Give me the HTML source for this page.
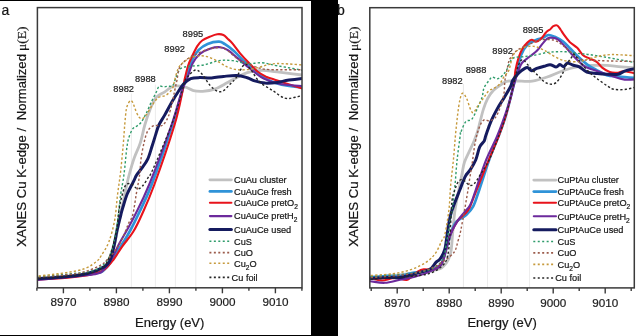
<!DOCTYPE html>
<html><head><meta charset="utf-8"><style>
html,body{margin:0;padding:0;background:#fff;width:643px;height:336px;overflow:hidden}
svg{display:block;will-change:transform;font-family:"Liberation Sans",sans-serif}
</style></head><body>
<svg width="643" height="336" viewBox="0 0 643 336" font-family="Liberation Sans, sans-serif">
<rect x="0" y="0" width="643" height="336" fill="#fff"/>
<line x1="131.4" y1="93.5" x2="131.4" y2="287.8" stroke="#ececec" stroke-width="1"/>
<line x1="155.4" y1="84.5" x2="155.4" y2="287.8" stroke="#ececec" stroke-width="1"/>
<line x1="175.4" y1="80" x2="175.4" y2="287.8" stroke="#ececec" stroke-width="1"/>
<line x1="195.8" y1="92" x2="195.8" y2="287.8" stroke="#ececec" stroke-width="1"/>
<text x="182.6" y="37.1" font-size="9.3" fill="#1c1c1c" stroke="#1c1c1c" stroke-width="0.2">8995</text>
<text x="164.3" y="51.7" font-size="9.3" fill="#1c1c1c" stroke="#1c1c1c" stroke-width="0.2">8992</text>
<text x="135.1" y="82.4" font-size="9.3" fill="#1c1c1c" stroke="#1c1c1c" stroke-width="0.2">8988</text>
<text x="113.3" y="91.7" font-size="9.3" fill="#1c1c1c" stroke="#1c1c1c" stroke-width="0.2">8982</text>
<clipPath id="ca"><rect x="37.4" y="7.6" width="264.6" height="280.2"/></clipPath>
<g clip-path="url(#ca)"><path d="M30.0,279.0 C35.7,278.6 54.0,277.4 64.0,276.5 C74.0,275.6 84.0,274.6 90.0,273.5 C96.0,272.4 97.2,271.6 100.0,270.0 C102.8,268.4 105.2,266.3 107.0,264.0 C108.8,261.7 109.8,259.2 111.0,256.0 C112.2,252.8 113.4,249.3 114.5,245.0 C115.6,240.7 116.4,235.5 117.5,230.0 C118.6,224.5 119.8,218.2 121.0,212.0 C122.2,205.8 123.7,199.2 125.0,193.0 C126.3,186.8 127.5,180.9 129.1,175.0 C130.7,169.1 132.4,163.0 134.3,157.7 C136.2,152.3 138.6,148.3 140.3,142.9 C142.1,137.5 143.2,130.5 144.8,125.0 C146.4,119.5 148.0,114.5 149.9,109.9 C151.8,105.3 153.6,100.4 156.1,97.4 C158.6,94.4 161.9,93.7 164.8,91.8 C167.7,89.9 170.2,87.0 173.5,86.2 C176.8,85.4 181.4,86.2 184.7,86.9 C188.0,87.6 190.4,89.9 193.4,90.6 C196.4,91.3 199.2,91.5 202.7,91.3 C206.2,91.0 210.6,90.5 214.6,89.1 C218.6,87.7 223.4,84.8 226.6,83.1 C229.8,81.4 230.6,80.7 234.0,79.0 C237.4,77.3 242.6,74.1 247.3,72.7 C252.0,71.3 257.2,70.5 262.2,70.4 C267.2,70.3 269.2,71.0 277.2,71.9 C285.2,72.8 304.5,75.3 310.0,76.0" fill="none" stroke="#c1c1c1" stroke-width="2.8" stroke-linejoin="round" stroke-linecap="round"/>
<path d="M30.0,279.5 C40.3,278.6 79.3,275.9 92.0,274.0 C104.7,272.1 102.4,270.9 106.0,268.0 C109.6,265.1 110.5,261.4 113.6,256.8 C116.6,252.2 121.5,245.2 124.3,240.7 C127.1,236.2 128.2,234.3 130.5,230.0 C132.8,225.7 134.5,222.5 138.0,215.0 C141.5,207.5 145.8,200.0 151.5,185.0 C157.2,170.0 167.1,141.2 172.3,125.0 C177.6,108.8 180.7,95.8 183.0,88.0 C185.3,80.2 184.5,82.8 186.0,78.2 C187.5,73.6 189.9,65.0 192.0,60.3 C194.1,55.6 196.1,52.6 198.7,49.9 C201.3,47.2 204.2,45.3 207.6,43.9 C211.0,42.5 216.2,41.5 219.1,41.6 C222.0,41.7 222.4,42.7 224.9,44.2 C227.4,45.8 230.9,48.3 233.9,50.9 C236.9,53.5 239.8,57.2 242.8,59.9 C245.8,62.6 249.1,65.0 251.8,67.3 C254.6,69.6 256.6,71.9 259.3,74.0 C262.0,76.1 264.3,78.2 268.0,80.0 C271.7,81.8 274.6,83.2 281.6,84.6 C288.6,86.0 305.3,87.8 310.0,88.5" fill="none" stroke="#2f93d8" stroke-width="2.7" stroke-linejoin="round" stroke-linecap="round"/>
<path d="M30.0,280.0 C36.7,279.6 59.6,278.4 70.0,277.5 C80.3,276.6 86.3,275.7 92.1,274.3 C97.9,272.9 101.0,271.8 104.6,269.3 C108.2,266.8 110.6,263.4 113.6,259.5 C116.6,255.6 119.2,250.7 122.5,246.1 C125.8,241.5 130.0,237.0 133.2,231.8 C136.4,226.6 138.2,222.8 141.7,215.0 C145.2,207.2 148.7,200.0 154.2,185.0 C159.7,170.0 169.7,140.8 174.5,125.0 C179.3,109.2 181.1,97.6 182.8,90.0 C184.5,82.4 183.7,83.6 184.6,79.6 C185.5,75.6 186.9,69.5 188.0,66.0 C189.1,62.5 189.4,61.9 191.0,58.6 C192.6,55.3 195.4,49.1 197.3,46.1 C199.2,43.1 200.1,42.0 202.2,40.5 C204.3,39.0 207.2,37.8 209.7,36.8 C212.2,35.8 214.9,34.6 217.2,34.3 C219.5,34.0 221.7,34.3 223.4,35.0 C225.2,35.7 226.2,37.3 227.7,38.7 C229.2,40.1 230.4,41.0 232.4,43.4 C234.4,45.8 237.2,49.9 239.9,53.1 C242.6,56.3 245.8,59.7 248.8,62.8 C251.8,65.9 254.8,69.4 257.8,71.8 C260.8,74.2 264.0,75.7 266.7,77.0 C269.4,78.3 271.2,78.4 274.2,79.4 C277.2,80.4 278.6,81.2 284.6,83.1 C290.6,85.0 305.8,89.7 310.0,91.0" fill="none" stroke="#e8131b" stroke-width="2.1" stroke-linejoin="round" stroke-linecap="round"/>
<path d="M30.0,280.5 C40.4,279.5 80.0,276.5 92.4,274.5 C104.8,272.5 101.4,271.0 104.6,268.4 C107.8,265.8 109.4,262.6 111.8,258.6 C114.2,254.6 116.4,249.1 118.9,244.3 C121.4,239.5 124.3,234.9 127.0,230.0 C129.7,225.1 131.3,222.5 135.0,215.0 C138.7,207.5 142.9,200.0 149.0,185.0 C155.1,170.0 166.0,140.8 171.5,125.0 C177.0,109.2 179.5,97.6 182.1,90.0 C184.7,82.4 185.0,84.0 186.8,79.6 C188.6,75.1 190.5,67.6 192.7,63.3 C194.9,59.0 197.2,56.1 200.2,53.6 C203.2,51.1 207.2,49.5 210.6,48.4 C214.0,47.3 217.5,46.9 220.4,47.2 C223.3,47.5 225.2,48.4 227.9,50.1 C230.7,51.8 233.9,55.1 236.9,57.6 C239.9,60.1 242.8,62.6 245.8,65.1 C248.8,67.6 251.8,70.3 254.8,72.5 C257.8,74.7 259.5,76.6 263.7,78.5 C267.9,80.4 272.3,82.7 280.0,84.0 C287.7,85.3 305.0,86.1 310.0,86.5" fill="none" stroke="#6c2a9c" stroke-width="2.1" stroke-linejoin="round" stroke-linecap="round"/>
<path d="M30.0,279.0 C35.0,278.7 50.5,278.2 60.0,277.3 C69.5,276.4 79.4,275.6 86.8,273.8 C94.2,272.0 100.7,268.8 104.6,266.6 C108.5,264.4 108.5,263.5 110.0,260.4 C111.5,257.3 112.4,253.0 113.6,247.9 C114.8,242.8 115.9,235.5 117.1,230.0 C118.3,224.5 119.8,218.8 120.8,215.0 C121.8,211.2 121.8,210.7 122.9,207.2 C124.0,203.7 125.6,198.0 127.3,193.8 C129.0,189.6 131.8,185.0 133.3,181.9 C134.9,178.8 135.2,177.3 136.6,175.0 C138.0,172.7 140.0,170.8 141.8,168.2 C143.7,165.6 146.0,162.9 147.7,159.2 C149.4,155.5 150.8,150.0 152.2,145.8 C153.6,141.6 154.8,137.4 155.9,133.9 C157.0,130.4 157.4,128.2 158.9,125.0 C160.4,121.8 162.6,118.9 164.8,114.9 C167.0,110.9 170.0,105.2 172.3,101.2 C174.6,97.2 176.6,94.1 178.5,91.2 C180.4,88.3 181.5,86.1 183.5,84.0 C185.5,81.9 188.0,79.8 190.7,78.7 C193.4,77.6 196.2,77.7 199.7,77.6 C203.2,77.5 207.6,78.1 211.6,77.9 C215.6,77.7 219.4,76.8 223.6,76.4 C227.8,76.0 232.9,75.3 236.9,75.5 C240.9,75.7 244.3,76.9 247.3,77.8 C250.3,78.7 251.8,80.0 254.8,80.9 C257.8,81.8 261.5,82.8 265.2,83.1 C268.9,83.3 273.2,82.9 277.2,82.4 C281.2,81.9 283.6,80.9 289.1,80.1 C294.6,79.3 306.5,77.9 310.0,77.5" fill="none" stroke="#151b5f" stroke-width="3.0" stroke-linejoin="round" stroke-linecap="round"/>
<path d="M30.0,277.5 C35.7,277.0 54.0,275.5 64.0,274.5 C74.0,273.5 84.0,272.7 90.0,271.5 C96.0,270.3 97.3,269.1 100.0,267.5 C102.7,265.9 104.3,264.1 106.0,262.0 C107.7,259.9 108.7,258.3 110.0,255.0 C111.3,251.7 112.7,247.8 114.0,242.0 C115.3,236.2 116.6,227.8 117.7,220.0 C118.8,212.2 119.6,202.5 120.6,195.0 C121.6,187.5 122.9,182.9 123.9,175.0 C125.0,167.1 126.0,153.7 126.9,147.3 C127.8,141.0 128.1,140.0 129.1,136.9 C130.1,133.8 131.6,130.5 132.9,128.7 C134.2,126.9 135.6,127.1 137.0,126.0 C138.4,124.9 139.7,124.4 141.2,122.3 C142.7,120.2 144.4,116.9 146.1,113.6 C147.8,110.3 149.4,105.9 151.1,102.4 C152.8,98.9 154.8,95.2 156.1,92.5 C157.4,89.8 157.9,87.1 159.2,86.2 C160.4,85.3 162.1,86.9 163.6,86.9 C165.1,86.9 166.4,86.5 167.9,86.2 C169.4,86.0 171.4,87.1 172.8,85.4 C174.2,83.7 175.2,78.8 176.5,76.0 C177.8,73.2 178.6,70.1 180.8,68.5 C183.0,66.9 185.8,66.9 189.8,66.3 C193.8,65.7 199.7,65.8 204.6,64.8 C209.5,63.8 214.4,61.3 219.0,60.6 C223.6,59.9 227.7,60.1 232.4,60.6 C237.1,61.1 242.3,63.2 247.3,63.6 C252.3,64.0 257.2,62.4 262.2,62.8 C267.2,63.2 269.2,64.3 277.2,65.8 C285.2,67.2 304.5,70.5 310.0,71.5" fill="none" stroke="#2f9c6b" stroke-width="1.4" stroke-linejoin="round" stroke-linecap="butt" stroke-dasharray="2.3 2.1"/>
<path d="M30.0,278.2 C36.7,277.6 60.9,275.6 70.0,274.5 C79.2,273.4 79.9,273.1 84.9,271.6 C89.9,270.1 96.2,267.6 99.9,265.6 C103.7,263.6 104.9,262.1 107.4,259.6 C109.9,257.1 112.4,254.2 114.9,250.7 C117.4,247.2 120.1,243.3 122.3,238.8 C124.5,234.3 126.6,227.9 128.3,223.9 C130.0,219.9 131.4,220.0 132.7,215.0 C134.0,210.0 135.2,200.5 136.3,193.8 C137.5,187.1 138.8,180.8 139.6,175.0 C140.4,169.2 140.3,164.5 141.0,159.2 C141.7,153.8 142.9,147.6 144.0,142.9 C145.1,138.2 146.1,133.9 147.7,131.0 C149.3,128.1 151.4,126.6 153.7,125.7 C155.9,124.8 159.3,126.2 161.2,125.8 C163.0,125.3 163.6,124.6 164.8,123.0 C166.0,121.4 167.2,119.5 168.5,116.1 C169.8,112.7 171.2,106.8 172.3,102.4 C173.4,98.1 174.0,93.7 174.8,90.0 C175.6,86.3 176.2,83.8 177.0,80.0 C177.8,76.2 178.0,70.8 179.5,67.5 C181.0,64.2 183.3,62.2 186.0,60.0 C188.7,57.8 191.8,56.1 195.7,54.3 C199.5,52.5 204.9,50.1 209.1,49.0 C213.2,47.9 217.5,47.3 220.6,47.6 C223.7,47.9 225.2,49.1 227.9,50.9 C230.6,52.7 234.2,56.5 236.9,58.4 C239.6,60.3 241.3,60.7 244.3,62.1 C247.3,63.5 250.6,65.3 254.8,66.6 C259.0,67.8 260.5,69.1 269.7,69.6 C278.9,70.1 303.3,69.6 310.0,69.6" fill="none" stroke="#9b5b4b" stroke-width="1.4" stroke-linejoin="round" stroke-linecap="butt" stroke-dasharray="2.3 2.1"/>
<path d="M30.0,276.8 C35.7,276.2 54.9,274.4 64.0,273.0 C73.2,271.6 79.4,270.6 84.9,268.6 C90.4,266.6 94.1,263.3 96.9,261.1 C99.7,258.9 99.5,258.4 101.5,255.2 C103.5,252.0 106.7,247.7 108.9,241.8 C111.1,235.9 113.3,227.8 114.7,220.0 C116.1,212.2 116.5,203.0 117.5,195.0 C118.5,187.0 119.6,180.3 120.6,172.0 C121.5,163.7 122.5,152.8 123.2,145.0 C123.9,137.2 124.2,130.8 124.7,125.0 C125.2,119.2 125.7,113.5 126.2,110.0 C126.8,106.5 127.3,105.6 128.0,104.0 C128.7,102.4 129.8,100.7 130.6,100.5 C131.4,100.3 132.3,101.7 133.0,103.0 C133.7,104.3 134.1,106.3 135.0,108.6 C135.9,110.9 137.5,115.0 138.7,116.7 C139.9,118.4 141.1,119.0 142.4,118.6 C143.8,118.2 145.1,116.5 146.8,114.2 C148.5,111.9 150.4,107.7 152.4,104.9 C154.4,102.1 156.3,99.0 158.6,97.4 C160.9,95.8 163.7,96.7 166.0,95.2 C168.3,93.8 170.9,91.1 172.3,88.7 C173.7,86.3 173.6,84.2 174.5,80.9 C175.4,77.7 176.6,72.1 177.9,69.2 C179.2,66.3 180.3,65.1 182.3,63.3 C184.3,61.4 186.8,59.4 189.8,58.1 C192.8,56.9 197.0,55.9 200.2,55.8 C203.4,55.7 206.0,56.2 209.1,57.3 C212.2,58.3 215.9,60.4 219.0,62.1 C222.1,63.8 224.9,66.0 227.9,67.3 C230.9,68.5 233.7,69.2 236.9,69.6 C240.1,70.0 243.6,70.0 247.3,69.6 C251.0,69.2 255.6,68.2 259.3,67.3 C263.0,66.4 266.0,64.9 269.7,64.3 C273.4,63.7 274.9,63.4 281.6,63.6 C288.3,63.8 305.3,65.2 310.0,65.5" fill="none" stroke="#c69a3c" stroke-width="1.4" stroke-linejoin="round" stroke-linecap="butt" stroke-dasharray="2.3 2.1"/>
<path d="M30.0,279.0 C35.7,278.6 54.0,277.5 64.0,276.5 C74.0,275.5 83.5,274.5 90.0,273.0 C96.5,271.5 100.0,269.7 103.0,267.5 C106.0,265.3 106.5,263.1 108.0,260.0 C109.5,256.9 110.6,254.0 112.0,249.0 C113.4,244.0 115.3,236.7 116.5,230.0 C117.7,223.3 118.3,214.5 119.2,208.7 C120.1,202.9 121.0,199.3 122.1,195.3 C123.2,191.3 124.3,186.8 125.9,184.9 C127.5,183.0 130.0,183.5 131.8,184.1 C133.7,184.7 135.3,188.2 137.0,188.6 C138.7,189.0 140.3,188.3 142.2,186.4 C144.1,184.5 146.5,180.1 148.2,177.4 C149.9,174.7 148.7,178.7 152.6,170.0 C156.5,161.3 166.5,138.3 171.5,125.0 C176.5,111.7 180.3,97.3 182.5,90.0 C184.7,82.7 183.7,83.4 184.8,80.9 C185.9,78.4 187.2,77.0 189.0,75.2 C190.8,73.4 193.6,70.2 195.7,70.0 C197.8,69.8 199.3,71.1 201.7,73.7 C204.1,76.3 207.4,82.5 210.1,85.4 C212.8,88.3 215.3,90.4 217.6,91.3 C219.8,92.2 221.6,91.7 223.6,90.6 C225.6,89.5 227.5,86.7 229.6,84.6 C231.7,82.5 233.6,81.2 236.0,77.9 C238.4,74.6 241.9,66.0 244.3,64.5 C246.7,63.0 247.8,66.2 250.3,69.0 C252.8,71.8 255.6,78.0 259.3,81.6 C263.0,85.2 268.5,87.8 272.7,90.6 C276.9,93.3 280.9,97.0 284.6,98.1 C288.3,99.2 290.9,98.1 295.1,97.3 C299.3,96.5 307.5,93.7 310.0,93.0" fill="none" stroke="#262626" stroke-width="1.4" stroke-linejoin="round" stroke-linecap="butt" stroke-dasharray="2.3 2.1"/></g>
<rect x="37.4" y="7.6" width="264.6" height="280.2" fill="none" stroke="#3a3a3a" stroke-width="1.5"/>
<line x1="36.9" y1="287.8" x2="36.9" y2="290.8" stroke="#3a3a3a" stroke-width="1.4"/>
<line x1="63.4" y1="287.8" x2="63.4" y2="293.3" stroke="#3a3a3a" stroke-width="1.4"/>
<text x="63.4" y="306.40000000000003" font-size="11.7" fill="#1c1c1c" stroke="#1c1c1c" stroke-width="0.2" text-anchor="middle">8970</text>
<line x1="89.9" y1="287.8" x2="89.9" y2="290.8" stroke="#3a3a3a" stroke-width="1.4"/>
<line x1="116.4" y1="287.8" x2="116.4" y2="293.3" stroke="#3a3a3a" stroke-width="1.4"/>
<text x="116.4" y="306.40000000000003" font-size="11.7" fill="#1c1c1c" stroke="#1c1c1c" stroke-width="0.2" text-anchor="middle">8980</text>
<line x1="142.9" y1="287.8" x2="142.9" y2="290.8" stroke="#3a3a3a" stroke-width="1.4"/>
<line x1="169.4" y1="287.8" x2="169.4" y2="293.3" stroke="#3a3a3a" stroke-width="1.4"/>
<text x="169.4" y="306.40000000000003" font-size="11.7" fill="#1c1c1c" stroke="#1c1c1c" stroke-width="0.2" text-anchor="middle">8990</text>
<line x1="195.9" y1="287.8" x2="195.9" y2="290.8" stroke="#3a3a3a" stroke-width="1.4"/>
<line x1="222.4" y1="287.8" x2="222.4" y2="293.3" stroke="#3a3a3a" stroke-width="1.4"/>
<text x="222.4" y="306.40000000000003" font-size="11.7" fill="#1c1c1c" stroke="#1c1c1c" stroke-width="0.2" text-anchor="middle">9000</text>
<line x1="248.9" y1="287.8" x2="248.9" y2="290.8" stroke="#3a3a3a" stroke-width="1.4"/>
<line x1="275.4" y1="287.8" x2="275.4" y2="293.3" stroke="#3a3a3a" stroke-width="1.4"/>
<text x="275.4" y="306.40000000000003" font-size="11.7" fill="#1c1c1c" stroke="#1c1c1c" stroke-width="0.2" text-anchor="middle">9010</text>
<line x1="301.9" y1="287.8" x2="301.9" y2="290.8" stroke="#3a3a3a" stroke-width="1.4"/>
<text x="135.0" y="327.1" font-size="13" fill="#161616" stroke="#161616" stroke-width="0.2">Energy (eV)</text>
<text transform="translate(25.7,246.7) rotate(-90)" font-size="13.4" fill="#161616" stroke="#161616" stroke-width="0.2" textLength="118.8" lengthAdjust="spacingAndGlyphs">XANES Cu K-edge /</text>
<text transform="translate(25.7,120.2) rotate(-90)" font-size="13.4" fill="#161616" stroke="#161616" stroke-width="0.2" textLength="66.1" lengthAdjust="spacingAndGlyphs">Normalized</text>
<text transform="translate(25.7,50.9) rotate(-90)" font-size="13.4" fill="#161616" stroke="#161616" stroke-width="0.2" font-family="Liberation Serif" textLength="24.3" lengthAdjust="spacingAndGlyphs">μ(E)</text>
<text x="1.5" y="14.9" font-size="14" fill="#161616" stroke="#161616" stroke-width="0.2">a</text>
<line x1="209.9" y1="179.8" x2="231.4" y2="179.8" stroke="#c1c1c1" stroke-width="2.8" stroke-linecap="round"/>
<text x="234" y="183.1" font-size="9.2" fill="#161616" stroke="#161616" stroke-width="0.2">CuAu cluster</text>
<line x1="209.9" y1="191.4" x2="231.4" y2="191.4" stroke="#2f93d8" stroke-width="2.7" stroke-linecap="round"/>
<text x="234" y="194.7" font-size="9.2" fill="#161616" stroke="#161616" stroke-width="0.2">CuAuCe fresh</text>
<line x1="209.9" y1="202.7" x2="231.4" y2="202.7" stroke="#e8131b" stroke-width="2.1" stroke-linecap="round"/>
<text x="234" y="206.0" font-size="9.2" fill="#161616" stroke="#161616" stroke-width="0.2">CuAuCe pretO<tspan dy="2.9" font-size="6.6">2</tspan></text>
<line x1="209.9" y1="216.1" x2="231.4" y2="216.1" stroke="#6c2a9c" stroke-width="2.1" stroke-linecap="round"/>
<text x="234" y="219.4" font-size="9.2" fill="#161616" stroke="#161616" stroke-width="0.2">CuAuCe pretH<tspan dy="2.9" font-size="6.6">2</tspan></text>
<line x1="209.9" y1="229.6" x2="231.4" y2="229.6" stroke="#151b5f" stroke-width="3.0" stroke-linecap="round"/>
<text x="234" y="232.9" font-size="9.2" fill="#161616" stroke="#161616" stroke-width="0.2">CuAuCe used</text>
<line x1="209.4" y1="241.3" x2="229.20000000000002" y2="241.3" stroke="#2f9c6b" stroke-width="1.6" stroke-dasharray="2 2.45"/>
<text x="234" y="244.6" font-size="9.2" fill="#161616" stroke="#161616" stroke-width="0.2">CuS</text>
<line x1="209.4" y1="252.6" x2="229.20000000000002" y2="252.6" stroke="#9b5b4b" stroke-width="1.6" stroke-dasharray="2 2.45"/>
<text x="234" y="255.9" font-size="9.2" fill="#161616" stroke="#161616" stroke-width="0.2">CuO</text>
<line x1="209.4" y1="263.3" x2="229.20000000000002" y2="263.3" stroke="#c69a3c" stroke-width="1.6" stroke-dasharray="2 2.45"/>
<text x="234" y="266.6" font-size="9.2" fill="#161616" stroke="#161616" stroke-width="0.2">Cu<tspan dy="2.9" font-size="6.6">2</tspan><tspan dy="-2.9">O</tspan></text>
<line x1="209.4" y1="277.4" x2="231.20000000000002" y2="277.4" stroke="#262626" stroke-width="1.6" stroke-dasharray="2 2.45"/>
<text x="231.6" y="280.7" font-size="9.2" fill="#161616" stroke="#161616" stroke-width="0.2">Cu foil</text>
<line x1="487.5" y1="125" x2="487.5" y2="287.9" stroke="#ececec" stroke-width="1"/>
<line x1="507.1" y1="100" x2="507.1" y2="287.9" stroke="#ececec" stroke-width="1"/>
<line x1="529.6" y1="48" x2="529.6" y2="287.9" stroke="#ececec" stroke-width="1"/>
<line x1="463.4" y1="84.5" x2="463.4" y2="287.9" stroke="#cfcfcf" stroke-width="1" stroke-dasharray="1 1"/>
<text x="522.7" y="32.9" font-size="9.3" fill="#1c1c1c" stroke="#1c1c1c" stroke-width="0.2">8995</text>
<text x="492.3" y="54.0" font-size="9.3" fill="#1c1c1c" stroke="#1c1c1c" stroke-width="0.2">8992</text>
<text x="465.7" y="73.1" font-size="9.3" fill="#1c1c1c" stroke="#1c1c1c" stroke-width="0.2">8988</text>
<text x="442.0" y="83.6" font-size="9.3" fill="#1c1c1c" stroke="#1c1c1c" stroke-width="0.2">8982</text>
<clipPath id="cb"><rect x="369.8" y="7.7" width="264.49999999999994" height="280.2"/></clipPath>
<g clip-path="url(#cb)"><path d="M362.0,279.0 C373.3,277.7 416.2,273.4 430.0,271.0 C443.8,268.6 441.2,267.9 444.6,264.9 C448.0,261.9 449.3,257.9 450.6,252.9 C451.9,247.9 451.8,242.2 452.5,235.0 C453.2,227.8 453.9,217.5 455.0,210.0 C456.1,202.5 457.7,195.8 458.8,190.0 C459.9,184.2 460.9,179.7 461.8,175.0 C462.8,170.3 463.2,165.9 464.5,162.0 C465.8,158.1 467.6,155.1 469.3,151.4 C471.0,147.7 473.1,143.6 474.5,140.0 C475.9,136.4 476.6,135.0 478.0,130.0 C479.4,125.0 481.6,115.0 483.2,109.8 C484.8,104.6 485.9,101.9 487.6,98.6 C489.3,95.3 491.3,92.5 493.5,90.2 C495.7,87.9 498.5,86.4 500.7,84.9 C502.9,83.4 503.9,82.0 506.6,81.3 C509.3,80.6 512.7,81.0 517.0,81.0 C521.3,81.0 527.2,81.8 532.2,81.1 C537.2,80.4 542.2,78.7 547.2,77.0 C552.2,75.3 557.2,72.7 562.1,71.0 C567.0,69.3 572.0,67.8 576.9,66.9 C581.8,66.0 586.8,65.7 591.8,65.4 C596.8,65.2 601.7,65.2 606.7,65.4 C611.7,65.7 615.7,66.4 621.6,66.9 C627.5,67.4 638.6,68.2 642.0,68.4" fill="none" stroke="#c1c1c1" stroke-width="2.8" stroke-linejoin="round" stroke-linecap="round"/>
<path d="M362.0,278.0 C365.8,277.7 378.6,276.3 384.9,276.0 C391.2,275.7 395.4,276.5 399.9,276.0 C404.4,275.5 406.8,274.1 411.8,273.1 C416.8,272.1 425.1,271.5 430.0,270.0 C434.9,268.5 438.3,267.3 441.0,264.0 C443.7,260.7 444.7,254.0 446.0,250.0 C447.3,246.0 447.5,243.6 448.6,240.0 C449.7,236.4 451.0,231.8 452.4,228.7 C453.8,225.6 454.6,223.5 456.8,221.3 C459.0,219.1 463.1,217.8 465.8,215.3 C468.5,212.8 471.0,210.6 473.2,206.4 C475.4,202.2 476.5,197.7 479.2,190.0 C481.9,182.3 485.8,169.2 489.1,160.0 C492.4,150.8 496.2,142.5 499.0,135.0 C501.8,127.5 503.7,122.8 506.0,115.0 C508.3,107.2 511.1,95.5 513.0,88.0 C514.9,80.5 516.0,75.5 517.4,70.0 C518.8,64.5 519.4,59.1 521.1,54.9 C522.8,50.7 524.9,47.4 527.4,44.9 C529.9,42.4 533.6,41.1 536.1,40.0 C538.6,38.9 540.2,38.9 542.3,38.1 C544.4,37.3 546.4,35.2 548.5,35.0 C550.6,34.8 552.2,35.7 554.7,36.8 C557.2,37.9 560.9,39.9 563.4,41.8 C565.9,43.7 567.5,45.7 569.7,48.0 C572.0,50.3 574.0,52.7 576.9,55.5 C579.8,58.3 584.1,62.2 587.3,64.6 C590.5,67.0 593.1,68.2 596.3,69.9 C599.5,71.7 603.0,74.0 606.7,75.1 C610.4,76.2 612.7,76.0 618.6,76.6 C624.5,77.2 638.1,78.2 642.0,78.5" fill="none" stroke="#2f93d8" stroke-width="2.7" stroke-linejoin="round" stroke-linecap="round"/>
<path d="M362.0,278.5 C363.3,278.5 366.7,278.0 370.0,278.3 C373.3,278.6 378.2,280.5 381.9,280.5 C385.6,280.5 389.5,278.7 392.4,278.3 C395.2,277.9 396.5,277.8 399.0,278.0 C401.5,278.2 404.2,280.9 407.3,279.8 C410.4,278.7 415.1,273.4 417.8,271.6 C420.5,269.9 421.0,269.7 423.7,269.3 C426.4,268.9 431.2,270.3 434.2,269.3 C437.2,268.3 439.6,266.6 441.6,263.4 C443.6,260.2 444.9,253.9 446.0,250.0 C447.1,246.1 447.2,243.3 448.3,240.0 C449.4,236.7 450.7,233.4 452.4,230.0 C454.1,226.6 456.2,222.5 458.3,219.8 C460.4,217.1 463.1,215.8 465.0,213.8 C466.9,211.8 467.8,211.4 469.5,207.9 C471.2,204.4 472.9,199.3 475.4,193.0 C477.9,186.7 480.7,179.7 484.6,170.0 C488.6,160.3 495.5,144.2 499.1,135.0 C502.7,125.8 503.6,123.3 506.0,115.0 C508.4,106.7 512.0,92.5 513.6,85.0 C515.2,77.5 514.6,74.6 515.5,70.0 C516.4,65.4 517.6,60.9 518.7,57.4 C519.9,53.9 521.0,51.2 522.4,48.7 C523.8,46.2 525.8,43.9 527.4,42.4 C529.0,40.9 530.2,39.8 531.7,39.7 C533.2,39.6 534.6,42.0 536.1,41.8 C537.6,41.6 539.4,40.2 541.0,38.7 C542.6,37.2 544.5,34.1 546.0,32.5 C547.5,30.9 549.1,30.2 550.3,29.2 C551.5,28.1 552.2,26.8 553.3,26.2 C554.4,25.6 555.8,24.8 557.0,25.4 C558.2,25.9 559.4,28.0 560.5,29.5 C561.6,31.0 562.2,32.3 563.7,34.4 C565.2,36.5 567.5,39.7 569.7,41.9 C572.0,44.1 575.0,45.6 577.2,47.8 C579.4,50.0 581.1,53.5 583.1,55.3 C585.1,57.0 586.9,57.2 589.1,58.3 C591.3,59.3 594.1,60.1 596.3,61.6 C598.5,63.1 600.0,65.8 602.2,67.6 C604.4,69.3 607.2,71.2 609.7,72.1 C612.2,73.0 614.6,72.9 617.1,72.8 C619.6,72.7 620.5,70.9 624.6,71.3 C628.8,71.7 639.1,74.4 642.0,75.0" fill="none" stroke="#e8131b" stroke-width="2.1" stroke-linejoin="round" stroke-linecap="round"/>
<path d="M362.0,281.0 C363.3,281.1 366.2,281.0 370.0,281.3 C373.8,281.6 379.9,283.1 384.9,282.8 C389.9,282.6 394.9,280.8 399.9,279.8 C404.9,278.8 409.8,278.2 414.8,276.8 C419.8,275.4 425.3,273.6 429.7,271.6 C434.1,269.6 438.3,268.6 441.0,265.0 C443.7,261.4 444.7,254.2 446.0,250.0 C447.3,245.8 447.5,243.3 448.6,240.0 C449.7,236.7 450.8,233.6 452.4,230.2 C454.0,226.8 456.3,222.8 458.3,219.8 C460.3,216.8 462.3,214.8 464.3,212.3 C466.3,209.8 468.4,208.3 470.2,204.9 C472.0,201.5 472.4,199.5 475.0,192.0 C477.6,184.5 482.3,169.5 486.1,160.0 C489.9,150.5 493.9,144.2 497.6,135.0 C501.3,125.8 505.8,112.8 508.4,105.0 C511.0,97.2 511.4,93.5 513.0,88.0 C514.6,82.5 516.5,76.2 518.0,72.0 C519.5,67.8 520.0,65.5 521.9,63.0 C523.8,60.5 526.9,58.8 529.4,56.8 C531.9,54.8 534.7,53.0 536.9,50.8 C539.1,48.6 540.9,45.5 542.8,43.4 C544.7,41.3 546.1,39.0 548.1,38.1 C550.1,37.2 553.0,37.8 554.7,38.1 C556.4,38.4 556.6,38.5 558.5,40.0 C560.4,41.5 563.4,44.7 565.9,47.4 C568.4,50.1 570.3,53.0 573.4,56.1 C576.5,59.2 580.2,63.6 584.3,66.1 C588.3,68.6 593.2,69.7 597.7,71.3 C602.2,72.9 606.7,74.4 611.2,75.8 C615.7,77.2 619.5,79.1 624.6,79.6 C629.7,80.1 639.1,78.9 642.0,78.8" fill="none" stroke="#6c2a9c" stroke-width="2.1" stroke-linejoin="round" stroke-linecap="round"/>
<path d="M362.0,279.0 C365.8,278.8 378.6,277.8 384.9,277.5 C391.2,277.2 394.9,278.1 399.9,277.5 C404.9,276.9 409.8,275.2 414.8,273.8 C419.8,272.4 426.2,271.2 429.7,269.3 C433.2,267.4 434.0,264.3 435.7,262.6 C437.4,260.9 438.6,261.0 440.1,258.9 C441.6,256.8 443.6,253.1 444.6,249.9 C445.7,246.8 445.7,244.3 446.4,240.0 C447.1,235.7 447.9,228.6 448.6,224.2 C449.4,219.8 450.0,217.0 450.9,213.8 C451.8,210.6 452.4,208.9 453.9,204.9 C455.4,200.9 457.9,194.8 459.8,190.0 C461.7,185.2 463.6,179.7 465.3,176.4 C467.0,173.1 468.1,173.1 469.8,170.4 C471.5,167.7 474.1,163.9 475.7,160.0 C477.3,156.1 478.3,150.1 479.7,146.9 C481.1,143.7 483.1,143.0 484.2,141.0 C485.2,139.0 484.8,138.4 486.0,135.0 C487.2,131.6 489.3,125.1 491.2,120.8 C493.1,116.5 495.0,112.9 497.2,108.9 C499.4,104.9 502.4,100.6 504.6,96.9 C506.8,93.2 509.2,89.2 510.6,86.5 C512.0,83.8 511.4,82.7 512.8,80.4 C514.2,78.1 516.8,74.9 518.8,72.9 C520.8,70.9 523.3,69.3 524.8,68.4 C526.3,67.5 526.7,67.3 527.8,67.7 C528.9,68.1 530.0,70.6 531.5,70.7 C533.0,70.8 534.6,69.2 536.7,68.4 C538.8,67.7 542.0,66.8 544.2,66.2 C546.4,65.6 548.1,64.6 550.1,64.7 C552.1,64.8 554.5,66.9 556.1,66.9 C557.8,66.9 558.7,64.6 560.0,64.6 C561.3,64.6 562.5,67.0 563.7,66.8 C564.9,66.5 565.8,63.4 567.4,63.1 C569.0,62.9 571.4,64.7 573.4,65.3 C575.4,65.9 577.1,65.7 579.3,66.8 C581.5,67.9 583.8,70.9 586.8,72.0 C589.8,73.1 593.7,73.1 597.2,73.5 C600.7,73.9 604.1,74.1 607.6,74.2 C611.1,74.3 614.9,74.8 618.0,74.2 C621.1,73.6 622.1,71.7 626.1,70.6 C630.1,69.5 639.4,68.0 642.0,67.5" fill="none" stroke="#151b5f" stroke-width="3.0" stroke-linejoin="round" stroke-linecap="round"/>
<path d="M362.0,277.5 C371.7,276.6 406.8,274.6 420.0,272.0 C433.2,269.4 436.5,267.3 441.0,262.0 C445.5,256.7 445.5,246.7 447.0,240.0 C448.5,233.3 449.1,227.5 450.0,222.0 C450.9,216.5 451.7,213.2 452.5,207.0 C453.3,200.8 454.2,192.8 455.0,185.0 C455.8,177.2 456.2,168.3 457.1,160.0 C458.0,151.7 459.7,139.5 460.3,135.0 C460.9,130.5 459.7,135.0 460.6,132.8 C461.5,130.6 463.9,123.8 465.8,121.6 C467.7,119.3 469.8,121.7 471.8,119.3 C473.8,116.9 476.1,111.1 477.8,107.4 C479.5,103.7 481.2,100.2 482.2,96.9 C483.2,93.7 482.9,90.6 484.0,87.9 C485.1,85.2 487.4,82.5 488.8,80.7 C490.2,78.9 490.9,77.4 492.3,77.1 C493.7,76.8 495.5,79.1 497.1,78.9 C498.7,78.7 500.3,77.5 501.9,76.0 C503.5,74.5 504.9,72.9 506.6,70.0 C508.4,67.1 509.6,60.8 512.4,58.6 C515.2,56.4 519.6,57.3 523.6,56.7 C527.6,56.1 532.2,55.6 536.1,54.9 C540.0,54.2 544.0,52.9 547.3,52.4 C550.6,51.9 552.9,51.9 556.0,51.8 C559.1,51.7 561.9,51.5 565.9,51.8 C569.9,52.1 575.6,53.1 580.0,53.6 C584.4,54.1 586.3,54.1 592.0,55.0 C597.7,55.9 605.9,57.2 614.2,58.7 C622.5,60.2 637.4,63.1 642.0,64.0" fill="none" stroke="#2f9c6b" stroke-width="1.4" stroke-linejoin="round" stroke-linecap="butt" stroke-dasharray="2.3 2.1"/>
<path d="M362.0,278.5 C371.7,277.4 405.2,275.8 420.0,272.0 C434.8,268.2 444.2,261.2 450.6,255.9 C457.0,250.6 456.3,246.0 458.3,240.0 C460.3,234.0 461.2,228.1 462.8,219.8 C464.4,211.5 466.8,197.0 468.0,190.0 C469.2,183.0 469.1,182.2 469.8,177.9 C470.5,173.7 471.1,170.4 472.0,164.5 C472.9,158.6 474.0,148.6 475.2,142.5 C476.4,136.4 477.6,131.7 479.0,128.0 C480.4,124.3 481.9,121.3 483.7,120.1 C485.5,118.9 487.7,121.3 489.7,120.8 C491.7,120.3 494.0,119.3 495.7,117.1 C497.4,114.9 498.7,111.2 500.1,107.4 C501.5,103.6 503.1,98.6 503.9,94.0 C504.7,89.4 504.3,84.8 505.0,80.0 C505.7,75.2 507.2,68.6 508.0,65.0 C508.8,61.4 508.6,60.9 510.0,58.6 C511.4,56.3 514.1,53.0 516.2,51.1 C518.3,49.2 520.1,48.6 522.4,47.4 C524.7,46.2 527.1,45.2 530.0,44.0 C532.9,42.8 536.1,40.7 540.0,40.0 C543.9,39.3 549.8,39.2 553.5,40.0 C557.2,40.8 559.5,43.0 562.2,44.9 C564.9,46.8 566.7,48.7 569.7,51.1 C572.7,53.5 576.6,57.7 580.0,59.2 C583.4,60.7 585.5,59.8 590.0,60.1 C594.5,60.4 598.0,60.6 606.7,60.9 C615.4,61.1 636.1,61.5 642.0,61.6" fill="none" stroke="#9b5b4b" stroke-width="1.4" stroke-linejoin="round" stroke-linecap="butt" stroke-dasharray="2.3 2.1"/>
<path d="M362.0,276.0 C367.1,275.6 384.1,274.9 392.4,273.8 C400.7,272.7 406.1,271.3 411.8,269.3 C417.5,267.3 422.7,264.6 426.7,261.9 C430.7,259.2 433.2,256.4 435.7,252.9 C438.2,249.4 440.1,244.0 441.6,241.0 C443.1,238.0 443.6,240.2 444.8,235.0 C446.0,229.8 447.9,218.3 448.9,210.0 C449.9,201.7 449.9,193.3 450.7,185.0 C451.4,176.7 452.6,168.3 453.4,160.0 C454.2,151.7 454.8,142.5 455.5,135.0 C456.2,127.5 456.9,120.8 457.6,114.9 C458.3,109.1 459.1,103.5 459.9,99.9 C460.7,96.3 461.4,93.5 462.5,93.2 C463.6,93.0 465.3,95.8 466.6,98.4 C467.9,101.0 469.2,106.5 470.3,108.9 C471.4,111.3 472.1,113.1 473.3,112.6 C474.6,112.1 476.0,108.4 477.8,105.9 C479.6,103.4 482.2,99.9 484.0,97.4 C485.8,94.9 487.2,92.3 488.8,90.8 C490.4,89.3 491.7,89.6 493.5,88.5 C495.3,87.4 497.9,86.0 499.5,84.3 C501.1,82.6 501.8,80.1 503.0,78.3 C504.2,76.5 505.6,75.0 506.6,73.6 C507.6,72.2 507.8,73.2 509.0,70.0 C510.2,66.8 511.7,57.8 513.7,54.3 C515.7,50.8 518.4,50.1 521.1,48.7 C523.8,47.4 527.4,46.5 529.9,46.2 C532.4,45.9 533.8,46.2 536.1,46.8 C538.4,47.4 541.2,48.8 543.5,49.9 C545.8,51.0 547.3,52.1 549.8,53.6 C552.3,55.1 555.6,57.4 558.5,58.6 C561.4,59.9 563.6,60.6 567.2,61.1 C570.8,61.6 576.4,62.1 580.0,61.7 C583.6,61.3 584.3,59.8 588.8,58.7 C593.2,57.6 601.2,55.5 606.7,54.9 C612.2,54.3 615.7,54.6 621.6,54.9 C627.5,55.1 638.6,56.1 642.0,56.4" fill="none" stroke="#c69a3c" stroke-width="1.4" stroke-linejoin="round" stroke-linecap="butt" stroke-dasharray="2.3 2.1"/>
<path d="M362.0,279.8 C370.8,279.2 403.0,277.2 414.8,276.0 C426.6,274.8 428.0,274.2 432.7,272.3 C437.4,270.4 440.6,267.6 443.1,264.9 C445.6,262.2 446.5,260.9 447.6,255.9 C448.8,250.9 449.3,244.0 450.0,235.0 C450.7,226.0 451.1,209.2 451.9,201.7 C452.7,194.2 453.9,193.0 454.9,189.8 C455.9,186.6 456.7,184.1 457.9,182.3 C459.1,180.6 460.9,179.3 462.3,179.3 C463.7,179.3 464.8,181.3 466.0,182.3 C467.2,183.3 468.4,185.1 469.8,185.3 C471.2,185.6 472.5,185.5 474.2,183.8 C475.9,182.1 477.7,178.9 480.2,174.9 C482.7,170.9 486.0,166.7 489.1,160.0 C492.2,153.3 496.3,142.5 499.1,135.0 C501.9,127.5 503.6,123.3 506.0,115.0 C508.4,106.7 511.8,92.5 513.6,85.0 C515.4,77.5 515.9,74.0 517.0,70.0 C518.1,66.0 519.3,62.6 520.5,61.0 C521.7,59.4 522.4,59.4 524.0,60.5 C525.6,61.6 527.7,65.0 530.0,67.5 C532.3,70.0 535.7,73.2 538.0,75.5 C540.3,77.8 542.0,80.1 544.0,81.5 C546.0,82.9 548.1,83.9 550.1,84.1 C552.1,84.3 554.1,84.2 556.1,82.6 C558.1,81.0 560.5,77.3 562.1,74.4 C563.8,71.5 564.5,68.0 566.0,65.3 C567.5,62.5 569.9,59.8 571.2,57.9 C572.6,56.0 572.8,53.6 574.1,54.1 C575.5,54.6 576.9,57.9 579.3,60.8 C581.7,63.7 585.3,68.3 588.3,71.3 C591.3,74.3 594.0,76.2 597.2,78.7 C600.4,81.2 604.8,84.3 607.6,86.1 C610.4,87.9 611.1,88.8 614.2,89.3 C617.3,89.8 621.5,89.9 626.1,89.3 C630.7,88.7 639.4,86.1 642.0,85.5" fill="none" stroke="#262626" stroke-width="1.4" stroke-linejoin="round" stroke-linecap="butt" stroke-dasharray="2.3 2.1"/></g>
<rect x="369.8" y="7.7" width="264.49999999999994" height="280.2" fill="none" stroke="#3a3a3a" stroke-width="1.5"/>
<line x1="371.2" y1="287.9" x2="371.2" y2="290.9" stroke="#3a3a3a" stroke-width="1.4"/>
<line x1="397.2" y1="287.9" x2="397.2" y2="293.4" stroke="#3a3a3a" stroke-width="1.4"/>
<text x="397.2" y="306.5" font-size="11.7" fill="#1c1c1c" stroke="#1c1c1c" stroke-width="0.2" text-anchor="middle">8970</text>
<line x1="423.2" y1="287.9" x2="423.2" y2="290.9" stroke="#3a3a3a" stroke-width="1.4"/>
<line x1="449.2" y1="287.9" x2="449.2" y2="293.4" stroke="#3a3a3a" stroke-width="1.4"/>
<text x="449.2" y="306.5" font-size="11.7" fill="#1c1c1c" stroke="#1c1c1c" stroke-width="0.2" text-anchor="middle">8980</text>
<line x1="475.2" y1="287.9" x2="475.2" y2="290.9" stroke="#3a3a3a" stroke-width="1.4"/>
<line x1="501.2" y1="287.9" x2="501.2" y2="293.4" stroke="#3a3a3a" stroke-width="1.4"/>
<text x="501.2" y="306.5" font-size="11.7" fill="#1c1c1c" stroke="#1c1c1c" stroke-width="0.2" text-anchor="middle">8990</text>
<line x1="527.2" y1="287.9" x2="527.2" y2="290.9" stroke="#3a3a3a" stroke-width="1.4"/>
<line x1="553.2" y1="287.9" x2="553.2" y2="293.4" stroke="#3a3a3a" stroke-width="1.4"/>
<text x="553.2" y="306.5" font-size="11.7" fill="#1c1c1c" stroke="#1c1c1c" stroke-width="0.2" text-anchor="middle">9000</text>
<line x1="579.2" y1="287.9" x2="579.2" y2="290.9" stroke="#3a3a3a" stroke-width="1.4"/>
<line x1="605.2" y1="287.9" x2="605.2" y2="293.4" stroke="#3a3a3a" stroke-width="1.4"/>
<text x="605.2" y="306.5" font-size="11.7" fill="#1c1c1c" stroke="#1c1c1c" stroke-width="0.2" text-anchor="middle">9010</text>
<line x1="631.2" y1="287.9" x2="631.2" y2="290.9" stroke="#3a3a3a" stroke-width="1.4"/>
<text x="467.4" y="326.8" font-size="13" fill="#161616" stroke="#161616" stroke-width="0.2">Energy (eV)</text>
<text transform="translate(358.3,246.7) rotate(-90)" font-size="13.4" fill="#161616" stroke="#161616" stroke-width="0.2" textLength="118.8" lengthAdjust="spacingAndGlyphs">XANES Cu K-edge /</text>
<text transform="translate(358.3,120.2) rotate(-90)" font-size="13.4" fill="#161616" stroke="#161616" stroke-width="0.2" textLength="66.1" lengthAdjust="spacingAndGlyphs">Normalized</text>
<text transform="translate(358.3,50.9) rotate(-90)" font-size="13.4" fill="#161616" stroke="#161616" stroke-width="0.2" font-family="Liberation Serif" textLength="24.3" lengthAdjust="spacingAndGlyphs">μ(E)</text>
<text x="337.1" y="14.9" font-size="14" fill="#161616" stroke="#161616" stroke-width="0.2">b</text>
<line x1="533.8" y1="180.1" x2="556.0" y2="180.1" stroke="#c1c1c1" stroke-width="2.8" stroke-linecap="round"/>
<text x="557.6" y="183.4" font-size="9.2" fill="#161616" stroke="#161616" stroke-width="0.2">CuPtAu cluster</text>
<line x1="533.8" y1="191.6" x2="556.0" y2="191.6" stroke="#2f93d8" stroke-width="2.7" stroke-linecap="round"/>
<text x="557.6" y="194.9" font-size="9.2" fill="#161616" stroke="#161616" stroke-width="0.2">CuPtAuCe fresh</text>
<line x1="533.8" y1="202.8" x2="556.0" y2="202.8" stroke="#e8131b" stroke-width="2.1" stroke-linecap="round"/>
<text x="557.6" y="206.1" font-size="9.2" fill="#161616" stroke="#161616" stroke-width="0.2">CuPtAuCe pretO<tspan dy="2.9" font-size="6.6">2</tspan></text>
<line x1="533.8" y1="216.3" x2="556.0" y2="216.3" stroke="#6c2a9c" stroke-width="2.1" stroke-linecap="round"/>
<text x="557.6" y="219.6" font-size="9.2" fill="#161616" stroke="#161616" stroke-width="0.2">CuPtAuCe pretH<tspan dy="2.9" font-size="6.6">2</tspan></text>
<line x1="533.8" y1="229.7" x2="556.0" y2="229.7" stroke="#151b5f" stroke-width="3.0" stroke-linecap="round"/>
<text x="557.6" y="233.0" font-size="9.2" fill="#161616" stroke="#161616" stroke-width="0.2">CuPtAuCe used</text>
<line x1="533.3" y1="241.5" x2="553.0999999999999" y2="241.5" stroke="#2f9c6b" stroke-width="1.6" stroke-dasharray="2 2.45"/>
<text x="557.6" y="244.8" font-size="9.2" fill="#161616" stroke="#161616" stroke-width="0.2">CuS</text>
<line x1="533.3" y1="252.9" x2="553.0999999999999" y2="252.9" stroke="#9b5b4b" stroke-width="1.6" stroke-dasharray="2 2.45"/>
<text x="557.6" y="256.2" font-size="9.2" fill="#161616" stroke="#161616" stroke-width="0.2">CuO</text>
<line x1="533.3" y1="264.4" x2="553.0999999999999" y2="264.4" stroke="#c69a3c" stroke-width="1.6" stroke-dasharray="2 2.45"/>
<text x="557.6" y="267.7" font-size="9.2" fill="#161616" stroke="#161616" stroke-width="0.2">Cu<tspan dy="2.9" font-size="6.6">2</tspan><tspan dy="-2.9">O</tspan></text>
<line x1="533.3" y1="278.0" x2="555.0999999999999" y2="278.0" stroke="#262626" stroke-width="1.6" stroke-dasharray="2 2.45"/>
<text x="555.2" y="281.3" font-size="9.2" fill="#161616" stroke="#161616" stroke-width="0.2">Cu foil</text>
<rect x="0" y="0" width="311" height="1" fill="#000"/>
<rect x="0" y="335" width="311" height="1" fill="#000"/>
<rect x="311" y="0" width="27" height="336" fill="#000"/>
</svg>
</body></html>
